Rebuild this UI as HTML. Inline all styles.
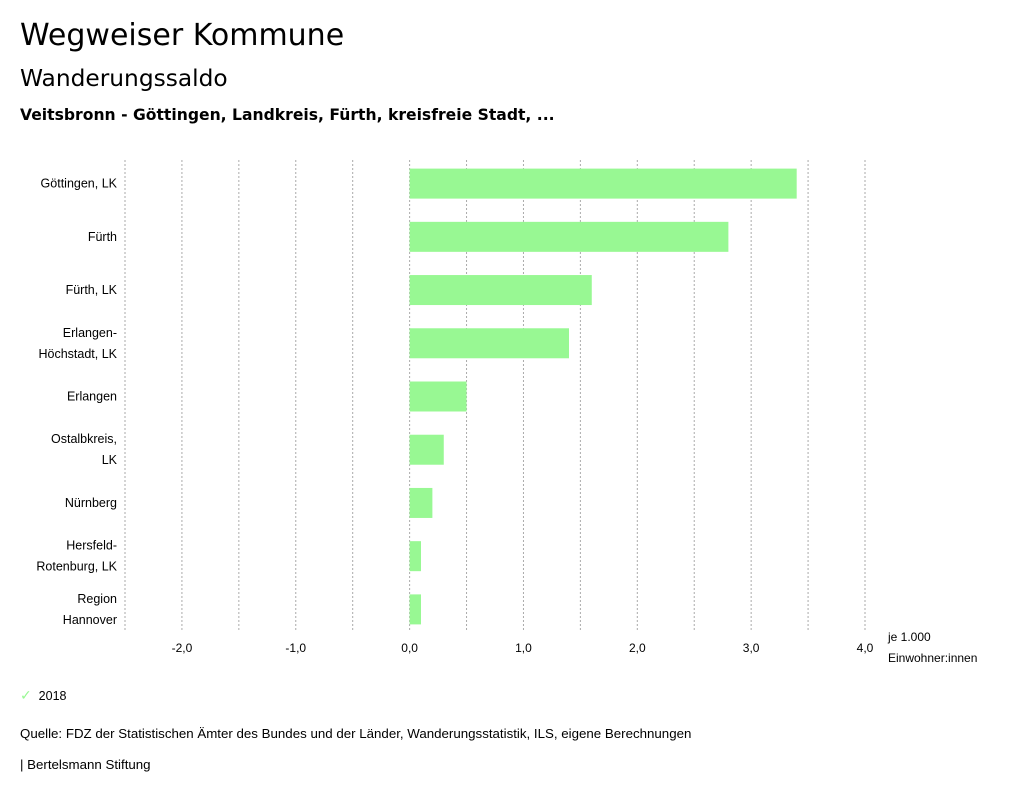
<!DOCTYPE html>
<html><head><meta charset="utf-8"><style>
body{margin:0;width:1024px;height:798px;background:#fff;font-family:"Liberation Sans","DejaVu Sans",sans-serif;color:#000;position:relative;overflow:hidden}
.t{position:absolute;left:20px;white-space:nowrap}
.h{font-family:"DejaVu Sans",sans-serif}
</style></head><body>
<div class="t h" style="top:18px;font-size:30px">Wegweiser Kommune</div>
<div class="t h" style="top:65px;font-size:23.3px">Wanderungssaldo</div>
<div class="t h" style="top:106px;font-size:15.6px;font-weight:bold">Veitsbronn - Göttingen, Landkreis, Fürth, kreisfreie Stadt, ...</div>
<svg id="c" width="1024" height="690" style="position:absolute;left:0;top:0" font-family="Liberation Sans, DejaVu Sans, sans-serif"></svg>
<div class="t" style="top:687px;font-size:12.5px"><span style="color:#98f893;font-size:14px">✓</span>&nbsp;&nbsp;2018</div>
<div class="t" style="top:726px;font-size:13.3px">Quelle: FDZ der Statistischen Ämter des Bundes und der Länder, Wanderungsstatistik, ILS, eigene Berechnungen</div>
<div class="t" style="top:757px;font-size:13.3px">| Bertelsmann Stiftung</div>
<script>
const categories=[["Göttingen, LK"],["Fürth"],["Fürth, LK"],["Erlangen-","Höchstadt, LK"],["Erlangen"],["Ostalbkreis,","LK"],["Nürnberg"],["Hersfeld-","Rotenburg, LK"],["Region","Hannover"]];
const values=[3.4,2.8,1.6,1.4,0.5,0.3,0.2,0.1,0.1];
const ticks=[-2,-1,0,1,2,3,4];
const tickLabels=["-2,0","-1,0","0,0","1,0","2,0","3,0","4,0"];
const xMin=-2.5,xMax=4;
const svg=document.getElementById('c');const NS='http://www.w3.org/2000/svg';
const L=125,R=865,T=157,B=636;
const x=v=>L+(v-xMin)/(xMax-xMin)*(R-L);
const band=(B-T)/categories.length;
const y=i=>T+band*i;
function mk(t,a){const e=document.createElementNS(NS,t);for(const k in a)e.setAttribute(k,a[k]);svg.appendChild(e);return e;}
for(let v=xMin;v<=xMax+1e-9;v+=0.5){
 const g=mk('line',{x1:x(v),x2:x(v),y1:160,y2:632,stroke:'#aaa','stroke-dasharray':'2,2','stroke-width':1});
 
 
}
ticks.forEach((t,i)=>{const e=mk('text',{x:x(t),y:652,'font-size':12,'text-anchor':'middle'});e.textContent=tickLabels[i];
 
 });
categories.forEach((c,i)=>{
 const cy=y(i)+band/2;
 const b=mk('rect',{x:x(Math.min(0,values[i])),y:cy-15,width:Math.abs(x(values[i])-x(0)),height:30,fill:'#98f893'});
 
 
 c.forEach((line,j)=>{const e=mk('text',{x:117,y:cy+4+(j-(c.length-1)/2)*21,'font-size':12.5,'text-anchor':'end'});e.textContent=line;
  
  });
});
[["je 1.000",641],["Einwohner:innen",662]].forEach(([s,yy])=>{const e=mk('text',{x:888,y:yy,'font-size':12});e.textContent=s;
 
 });
</script>
</body></html>
